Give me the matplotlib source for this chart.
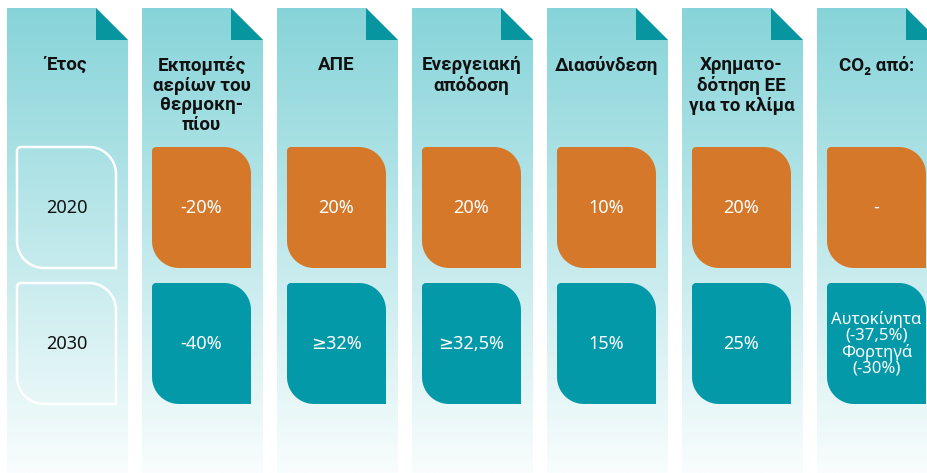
import numpy as np
import matplotlib.pyplot as plt
from matplotlib.patches import Polygon
from matplotlib.colors import to_rgb

# Table content
headers = ['Έτος', 'Εκπομπές\nαερίων του\nθερμοκη-\nπίου', 'ΑΠΕ',
           'Ενεργειακή\nαπόδοση', 'Διασύνδεση', 'Χρηματο-\nδότηση ΕΕ\nγια το κλίμα',
           'CO₂ από:']
years = ['2020', '2030']
values_2020 = ['-20%', '20%', '20%', '10%', '20%', '-']
values_2030 = ['-40%', '≥32%', '≥32,5%', '15%', '25%',
               'Αυτοκίνητα\n(-37,5%)\nΦορτηγά\n(-30%)']

plt.rcParams['font.family'] = ['Noto Sans', 'DejaVu Sans']

W, H = 928, 473
fig = plt.figure(figsize=(W / 100, H / 100), dpi=100)
ax = fig.add_axes([0, 0, 1, 1])
ax.set_xlim(0, W)
ax.set_ylim(H, 0)
ax.axis('off')

col_x0, col_step, col_w = 7, 135, 121
top, bottom, fold = 8, 473, 32
box_dx, box_w, box_h = 10, 99, 121
row_y = [147, 283]

orange = '#d5782a'
teal = '#0399a8'
fold_col = '#07969f'
grad_top = np.array(to_rgb('#86d4d9'))
grad_bot = np.array(to_rgb('#f9fdfd'))


def arc(cx, cy, r, a0, a1, n=16):
    a = np.radians(np.linspace(a0, a1, n))
    return np.column_stack([cx + r * np.cos(a), cy + r * np.sin(a)])


def leaf(x, y, w, h, r_small=4, r_big=27):
    pts = [arc(x + r_small, y + r_small, r_small, 180, 270),
           arc(x + w - r_big, y + r_big, r_big, 270, 360),
           [[x + w, y + h]],
           arc(x + r_big, y + h - r_big, r_big, 90, 180)]
    return np.vstack(pts)


grad = np.linspace(0, 1, 256)[:, None, None]
grad = grad_top * (1 - grad) + grad_bot * grad

for i, head in enumerate(headers):
    x0 = col_x0 + i * col_step
    x1 = x0 + col_w
    shape = Polygon([[x0, bottom], [x0, top], [x1 - fold, top], [x1, top + fold],
                     [x1, bottom]], closed=True, facecolor='none', edgecolor='none')
    ax.add_patch(shape)
    im = ax.imshow(grad, extent=[x0, x1, bottom, top], origin='upper',
                   aspect='auto', zorder=1)
    im.set_clip_path(shape)
    ax.add_patch(Polygon([[x1 - fold, top], [x1 - fold, top + fold], [x1, top + fold]],
                         closed=True, facecolor=fold_col, edgecolor='none', zorder=2))

    cx = x0 + box_dx + box_w / 2
    ax.text(cx, 56, head, ha='center', va='top', fontsize=13.5, fontweight='bold',
            family=['Roboto', 'DejaVu Sans'], color='#111111', linespacing=1.12,
            zorder=4)

    bx = x0 + box_dx
    if i == 0:
        for r, yr in enumerate(years):
            ax.add_patch(Polygon(leaf(bx, row_y[r], box_w, box_h), closed=True,
                                 facecolor='none', edgecolor='white', lw=1.8, zorder=3))
            ax.text(cx, row_y[r] + box_h / 2, yr, ha='center', va='center',
                    fontsize=13, color='#111111', zorder=4)
    else:
        for r, (vals, c) in enumerate([(values_2020, orange), (values_2030, teal)]):
            ax.add_patch(Polygon(leaf(bx, row_y[r], box_w, box_h), closed=True,
                                 facecolor=c, edgecolor='none', zorder=3))
            ax.text(cx, row_y[r] + box_h / 2, vals[i - 1], ha='center', va='center',
                    fontsize=13 if r == 0 or i < 6 else 12, color='white',
                    linespacing=1.0, zorder=4)

fig.savefig('out.png', dpi=100)
